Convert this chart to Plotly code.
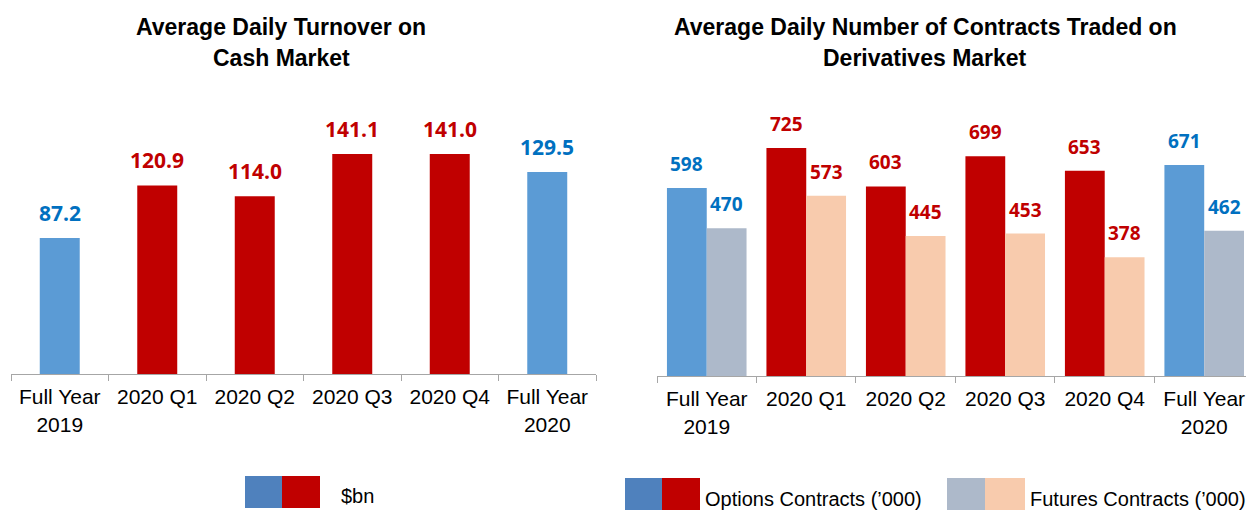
import plotly.graph_objects as go

# ---------------- data ----------------
categories = ["Full Year<br>2019", "2020 Q1", "2020 Q2", "2020 Q3", "2020 Q4", "Full Year<br>2020"]
turnover_bn = [87.2, 120.9, 114.0, 141.1, 141.0, 129.5]
options_k = [598, 725, 603, 699, 653, 671]
futures_k = [470, 573, 445, 453, 378, 462]
title_left = ["Average Daily Turnover on", "Cash Market"]
title_right = ["Average Daily Number of Contracts Traded on", "Derivatives Market"]
legend_left = "$bn"
legend_right = ["Options Contracts (\u2019000)", "Futures Contracts (\u2019000)"]

# ---------------- styles ----------------
W, H = 1246, 512
BLUE_BAR = "#5B9BD5"
RED_BAR = "#C00000"
GREY_BAR = "#ADB9CA"
PEACH_BAR = "#F8CBAD"
BLUE_TXT = "#0070C0"
RED_TXT = "#C00000"
LEG_BLUE = "#4F81BD"
AXIS_COL = "#A6A6A6"
is_full_year = [True, False, False, False, False, True]

opt_colors = [BLUE_BAR if f else RED_BAR for f in is_full_year]
fut_colors = [GREY_BAR if f else PEACH_BAR for f in is_full_year]
txt_colors = [BLUE_TXT if f else RED_TXT for f in is_full_year]


def px_x(x):
    return x / W


def px_y(y):
    return 1 - y / H


fig = go.Figure()

fig.add_trace(go.Bar(x=categories, y=turnover_bn, marker=dict(color=opt_colors, line=dict(width=0)),
                     width=0.41, offset=-0.205, xaxis="x", yaxis="y", hoverinfo="x+y"))
fig.add_trace(go.Bar(x=categories, y=options_k, marker=dict(color=opt_colors, line=dict(width=0)),
                     width=0.4, offset=-0.4, xaxis="x2", yaxis="y2", hoverinfo="x+y"))
fig.add_trace(go.Bar(x=categories, y=futures_k, marker=dict(color=fut_colors, line=dict(width=0)),
                     width=0.4, offset=0.0, xaxis="x2", yaxis="y2", hoverinfo="x+y"))

annotations = []
LBL_FONT = "Open Sans"
for c, v, col in zip(categories, turnover_bn, txt_colors):
    annotations.append(dict(x=c, y=v, xref="x", yref="y", text=f"<b>{v:.1f}</b>", showarrow=False,
                            yanchor="bottom", yshift=9, font=dict(family=LBL_FONT, size=21, color=col)))
for c, v, col in zip(categories, options_k, txt_colors):
    annotations.append(dict(x=c, y=v, xref="x2", yref="y2", text=f"<b>{v}</b>", showarrow=False,
                            yanchor="bottom", yshift=9, xshift=-20,
                            font=dict(family=LBL_FONT, size=19, color=col)))
for c, v, col in zip(categories, futures_k, txt_colors):
    annotations.append(dict(x=c, y=v, xref="x2", yref="y2", text=f"<b>{v}</b>", showarrow=False,
                            yanchor="bottom", yshift=9, xshift=20,
                            font=dict(family=LBL_FONT, size=19, color=col)))

TFONT = dict(family="Arial, Liberation Sans", size=23, color="#000000")
for i, (tl, tr) in enumerate(zip(title_left, title_right)):
    yc = [27, 58][i]
    annotations.append(dict(x=px_x(281), y=px_y(yc), xref="paper", yref="paper", text=f"<b>{tl}</b>",
                            showarrow=False, xanchor="center", yanchor="middle", font=TFONT))
    annotations.append(dict(x=px_x(925), y=px_y(yc), xref="paper", yref="paper", text=f"<b>{tr}</b>",
                            showarrow=False, xanchor="center", yanchor="middle", font=TFONT))

LFONT = dict(family="Arial, Liberation Sans", size=20, color="#000000")
annotations.append(dict(x=px_x(339), y=px_y(496), xref="paper", yref="paper", text=legend_left,
                        showarrow=False, xanchor="left", yanchor="middle", font=LFONT))
annotations.append(dict(x=px_x(703), y=px_y(499), xref="paper", yref="paper", text=legend_right[0],
                        showarrow=False, xanchor="left", yanchor="middle", font=LFONT))
annotations.append(dict(x=px_x(1028), y=px_y(499), xref="paper", yref="paper", text=legend_right[1],
                        showarrow=False, xanchor="left", yanchor="middle", font=LFONT))

shapes = []


def swatch(x0, x1, y0, y1, color):
    shapes.append(dict(type="rect", xref="paper", yref="paper", x0=px_x(x0), x1=px_x(x1),
                       y0=px_y(y1), y1=px_y(y0), fillcolor=color, line=dict(width=0)))


swatch(245, 282, 476, 508, LEG_BLUE)
swatch(282, 320, 476, 508, RED_BAR)
swatch(625, 662, 478, 510, LEG_BLUE)
swatch(662, 700, 478, 510, RED_BAR)
swatch(947, 985, 478, 510, GREY_BAR)
swatch(985, 1025, 478, 510, PEACH_BAR)

xaxis_common = dict(type="category", showline=True, linecolor=AXIS_COL, linewidth=1,
                    ticks="outside", tickson="boundaries", ticklen=6, tickcolor=AXIS_COL,
                    ticklabelstandoff=4,
                    tickfont=dict(family="Arial, Liberation Sans", size=21, color="#000000"),
                    showgrid=False, zeroline=False, fixedrange=True)
yaxis_common = dict(visible=False, showgrid=False, zeroline=False, fixedrange=True)

fig.update_layout(
    width=W, height=H,
    margin=dict(l=0, r=0, t=0, b=0),
    paper_bgcolor="white", plot_bgcolor="white",
    showlegend=False,
    barmode="group",
    xaxis=dict(**xaxis_common, domain=[px_x(11), px_x(596)], range=[-0.5, 5.5], anchor="y"),
    yaxis=dict(**yaxis_common, domain=[px_y(374), px_y(80)], range=[0, 294 / 1.56], anchor="x"),
    xaxis2=dict(**xaxis_common, domain=[px_x(657), 1.0], range=[-0.5, 5.42], anchor="y2"),
    yaxis2=dict(**yaxis_common, domain=[px_y(376), px_y(80)], range=[0, 296 / 0.3144], anchor="x2"),
    annotations=annotations,
    shapes=shapes,
)

fig.write_html("out.html", config={"displayModeBar": False},
               post_script="document.body.style.margin='0';document.body.style.overflow='hidden';")
